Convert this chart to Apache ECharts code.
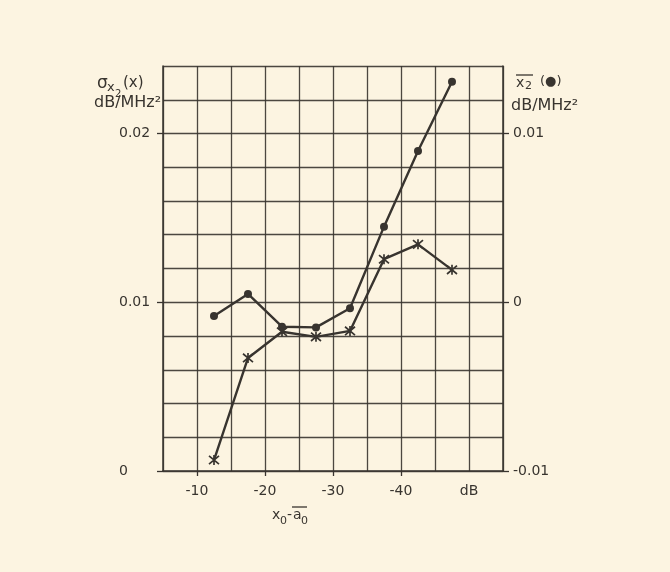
<!DOCTYPE html>
<html>
<head>
<meta charset="utf-8">
<script src="https://cdn.jsdelivr.net/npm/echarts@6/dist/echarts.min.js"></script>
<style>
  html, body { margin: 0; padding: 0; background: #fcf4e1; }
  #chart { width: 670px; height: 572px; }
</style>
</head>
<body>
<div id="chart"></div>
<script>
// x0 - a0 in dB
const xLevels = [-12.5, -17.5, -22.5, -27.5, -32.5, -37.5, -42.5, -47.5];
// sigma_x2(x), left axis, dB/MHz^2  (crosses)
const sigmaX2 = [0.00065, 0.0067, 0.00825, 0.00795, 0.0083, 0.01255, 0.01343, 0.01192];
// mean x2 (dots), right axis, dB/MHz^2
const meanX2 = [-0.00082, 0.00049, -0.00145, -0.00149, -0.00036, 0.00448, 0.00896, 0.01307];
// labelled ticks
const xTickValues = [-10, -20, -30, -40];
const xUnitAt = -50;
const leftTickValues = [0, 0.01, 0.02];
const rightTickValues = [-0.01, 0, 0.01];

const ink = '#38342f';
const paper = '#fcf4e1';
const font = 'DejaVu Sans';

const chart = echarts.init(document.getElementById('chart'));

const crossPath = 'path://M0 0L10 10M10 0L0 10M5 -1L5 11';

function fmtY(v) {
  if (Math.abs(v) < 1e-9) return '0';
  return v.toFixed(2);
}

const gridLine = { show: true, lineStyle: { color: ink, width: 1.3, opacity: 0.9 } };
const tickStyle = { color: ink, width: 1.3 };

// x: one axis for the 5 dB grid, one for the labelled ticks
const xRange = { min: -55, max: -5, inverse: true };
// y: left scale and right scale share the grid
const yLeft = { min: 0, max: 0.024 };
const yRight = { min: -0.01, max: 0.014 };

const option = {
  backgroundColor: paper,
  animation: false,
  grid: { left: 163, right: 167, top: 66, bottom: 101 },
  xAxis: [
    {
      type: 'value', ...xRange, interval: 5, position: 'bottom',
      axisLine: { lineStyle: { color: ink, width: 1.5 } },
      axisTick: { show: false },
      axisLabel: { show: false },
      splitLine: gridLine
    },
    {
      type: 'value', ...xRange, interval: 5, position: 'bottom',
      axisLine: { show: false },
      axisTick: { show: true, length: 5, customValues: xTickValues, lineStyle: tickStyle },
      splitLine: { show: false },
      axisLabel: {
        margin: 13, color: ink, fontFamily: font, fontSize: 14,
        customValues: xTickValues.concat([xUnitAt]),
        formatter: v => (Math.abs(v - xUnitAt) < 1e-9 ? 'dB' : String(v))
      }
    }
  ],
  yAxis: [
    {
      type: 'value', ...yLeft, interval: 0.002, position: 'left',
      axisLine: { show: true, lineStyle: { color: ink, width: 1.5 } },
      axisTick: { show: false },
      axisLabel: { show: false },
      splitLine: gridLine
    },
    {
      type: 'value', ...yLeft, interval: 0.002, position: 'left',
      axisLine: { show: false },
      axisTick: { show: true, length: 6, customValues: leftTickValues, lineStyle: tickStyle },
      splitLine: { show: false },
      axisLabel: {
        margin: 44, align: 'left', color: ink, fontFamily: font, fontSize: 14,
        customValues: leftTickValues,
        formatter: fmtY
      }
    },
    {
      type: 'value', ...yRight, interval: 0.002, position: 'right',
      axisLine: { show: true, lineStyle: { color: ink, width: 1.5 } },
      axisTick: { show: true, length: 6, customValues: rightTickValues, lineStyle: tickStyle },
      splitLine: { show: false },
      axisLabel: {
        margin: 10, color: ink, fontFamily: font, fontSize: 14,
        customValues: rightTickValues,
        formatter: fmtY
      }
    }
  ],
  series: [
    {
      name: 'sigma',
      type: 'line',
      xAxisIndex: 0,
      yAxisIndex: 0,
      data: xLevels.map((x, i) => [x, sigmaX2[i]]),
      symbol: crossPath,
      symbolSize: 10,
      showAllSymbol: true,
      lineStyle: { color: ink, width: 2.4 },
      itemStyle: { color: ink, borderColor: ink, borderWidth: 1.7 },
      z: 5
    },
    {
      name: 'mean',
      type: 'line',
      xAxisIndex: 0,
      yAxisIndex: 2,
      data: xLevels.map((x, i) => [x, meanX2[i]]),
      symbol: 'circle',
      symbolSize: 8,
      showAllSymbol: true,
      lineStyle: { color: ink, width: 2.4 },
      itemStyle: { color: ink, borderWidth: 0 },
      z: 5
    }
  ],
  graphic: [
    // left axis title
    { type: 'text', x: 97, y: 84, style: { text: 'σ', fill: ink, font: '17px "DejaVu Sans"', verticalAlign: 'middle' } },
    { type: 'text', x: 107, y: 88, style: { text: 'x', fill: ink, font: '13px "DejaVu Sans"', verticalAlign: 'middle' } },
    { type: 'text', x: 115, y: 94, style: { text: '2', fill: ink, font: '10px "DejaVu Sans"', verticalAlign: 'middle' } },
    { type: 'text', x: 123, y: 83, style: { text: '(x)', fill: ink, font: '15px "DejaVu Sans"', verticalAlign: 'middle' } },
    { type: 'text', x: 94, y: 103, style: { text: 'dB/MHz²', fill: ink, font: '16px "DejaVu Sans"', verticalAlign: 'middle' } },
    // right axis title
    { type: 'text', x: 516, y: 83, style: { text: 'x', fill: ink, font: '14px "DejaVu Sans"', verticalAlign: 'middle' } },
    { type: 'text', x: 525, y: 86, style: { text: '2', fill: ink, font: '11px "DejaVu Sans"', verticalAlign: 'middle' } },
    { type: 'line', shape: { x1: 516, y1: 75, x2: 533, y2: 75 }, style: { stroke: ink, lineWidth: 1.3 } },
    { type: 'text', x: 540, y: 82, style: { text: '(●)', fill: ink, font: '13px "DejaVu Sans"', verticalAlign: 'middle' } },
    { type: 'text', x: 511, y: 106, style: { text: 'dB/MHz²', fill: ink, font: '16px "DejaVu Sans"', verticalAlign: 'middle' } },
    // x axis title
    { type: 'text', x: 272, y: 515, style: { text: 'x', fill: ink, font: '14px "DejaVu Sans"', verticalAlign: 'middle' } },
    { type: 'text', x: 280, y: 521, style: { text: '0', fill: ink, font: '11px "DejaVu Sans"', verticalAlign: 'middle' } },
    { type: 'text', x: 287, y: 515, style: { text: '-', fill: ink, font: '14px "DejaVu Sans"', verticalAlign: 'middle' } },
    { type: 'text', x: 293, y: 515, style: { text: 'a', fill: ink, font: '14px "DejaVu Sans"', verticalAlign: 'middle' } },
    { type: 'text', x: 301, y: 521, style: { text: '0', fill: ink, font: '11px "DejaVu Sans"', verticalAlign: 'middle' } },
    { type: 'line', shape: { x1: 292, y1: 507, x2: 307, y2: 507 }, style: { stroke: ink, lineWidth: 1.3 } }
  ]
};

chart.setOption(option);
</script>
</body>
</html>
